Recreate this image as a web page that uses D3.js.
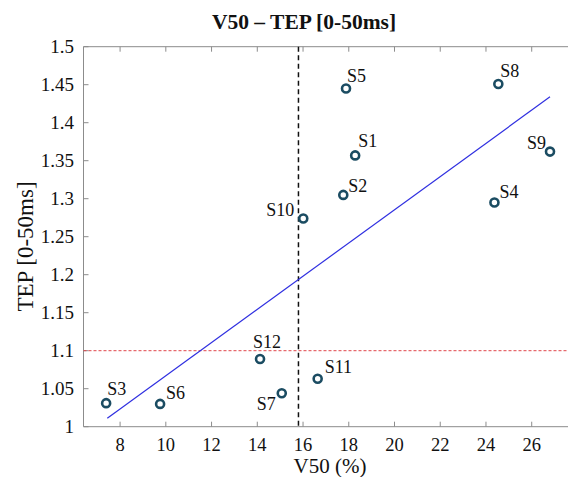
<!DOCTYPE html>
<html>
<head>
<meta charset="utf-8">
<script src="https://cdn.jsdelivr.net/npm/d3@7"></script>
<style>
    body { margin: 0; background: #fff; }
    text { font-family: "Liberation Serif", "Times New Roman", serif; fill: #111; }
</style>
</head>
<body>
<svg id="chart" width="568" height="477"></svg>
<script>
// subjects, V50 (%) and TEP [0-50ms]
const subjects = ["S1", "S2", "S3", "S4", "S5", "S6", "S7", "S8", "S9", "S10", "S11", "S12"]
const v50 = [18.28, 17.76, 7.39, 24.37, 17.88, 9.75, 15.07, 24.54, 26.80, 16.01, 16.64, 14.12]
const tep = [1.357, 1.305, 1.031, 1.295, 1.445, 1.030, 1.044, 1.451, 1.362, 1.274, 1.063, 1.089]

// fitted line ends, thresholds
const fitX = [7.44, 26.80]
const fitY = [1.011, 1.434]
const v50Cut = 15.8
const tepCut = 1.1

const xTicks = [8, 10, 12, 14, 16, 18, 20, 22, 24, 26]
const yTicks = [1, 1.05, 1.1, 1.15, 1.2, 1.25, 1.3, 1.35, 1.4, 1.45, 1.5]

// label placement next to each marker: dx, dy, anchor
const labelPos = {
    S1: [3, -8, "start"], S2: [5, -3, "start"], S3: [1, -8, "start"],
    S4: [5, -5, "start"], S5: [1, -7, "start"], S6: [6, -5, "start"],
    S7: [-6, 17, "end"], S8: [2, -7, "start"], S9: [-4, -3, "end"],
    S10: [-9, -2, "end"], S11: [7, -6, "start"], S12: [-7, -11, "start"]
}

const svg = d3.select("#chart")
const pLeft = 83.5, pRight = 568.3, pTop = 46.7, pBottom = 426.7

const x = d3.scaleLinear().domain([6.4, 27.6]).range([pLeft, pRight])
const y = d3.scaleLinear().domain([1, 1.5]).range([pBottom, pTop])

const axisColor = "#8c8c8c"

// box
svg.append("path")
    .attr("d", `M${pRight},${pTop}H${pLeft}V${pBottom}H${pRight}`)
    .attr("fill", "none")
    .attr("stroke", axisColor)
    .attr("stroke-width", 1)

// x ticks, bottom and top
svg.append("g").selectAll("line")
    .data(xTicks)
    .join("line")
    .attr("x1", d => x(d)).attr("x2", d => x(d))
    .attr("y1", pBottom).attr("y2", pBottom - 5)
    .attr("stroke", axisColor)
svg.append("g").selectAll("line")
    .data(xTicks)
    .join("line")
    .attr("x1", d => x(d)).attr("x2", d => x(d))
    .attr("y1", pTop).attr("y2", pTop + 5)
    .attr("stroke", axisColor)
svg.append("g").selectAll("text")
    .data(xTicks)
    .join("text")
    .attr("x", d => x(d))
    .attr("y", pBottom + 23.8)
    .attr("text-anchor", "middle")
    .attr("font-size", 18.5)
    .text(d => d)

// y ticks
svg.append("g").selectAll("line")
    .data(yTicks)
    .join("line")
    .attr("x1", pLeft).attr("x2", pLeft + 5)
    .attr("y1", d => y(d)).attr("y2", d => y(d))
    .attr("stroke", axisColor)
svg.append("g").selectAll("text")
    .data(yTicks)
    .join("text")
    .attr("x", pLeft - 9.5)
    .attr("y", d => y(d) + 6.5)
    .attr("text-anchor", "end")
    .attr("font-size", 19)
    .text(d => +d.toFixed(2))

// threshold lines
svg.append("line")
    .attr("x1", pLeft).attr("x2", pRight)
    .attr("y1", y(tepCut)).attr("y2", y(tepCut))
    .attr("stroke", "#e0474c")
    .attr("stroke-width", 1)
    .attr("stroke-dasharray", "3,2")
svg.append("line")
    .attr("x1", x(v50Cut)).attr("x2", x(v50Cut))
    .attr("y1", pTop).attr("y2", pBottom)
    .attr("stroke", "#111")
    .attr("stroke-width", 1.5)
    .attr("stroke-dasharray", "5,3.5")

// fit
svg.append("path")
    .datum(d3.zip(fitX, fitY))
    .attr("d", d3.line().x(d => x(d[0])).y(d => y(d[1])))
    .attr("fill", "none")
    .attr("stroke", "#2f2fe0")
    .attr("stroke-width", 1.2)

// markers
const pts = subjects.map((s, i) => ({name: s, v: v50[i], t: tep[i]}))
svg.append("g").selectAll("circle")
    .data(pts)
    .join("circle")
    .attr("cx", d => x(d.v))
    .attr("cy", d => y(d.t))
    .attr("r", 4)
    .attr("fill", "#fff")
    .attr("stroke", "#1b4c62")
    .attr("stroke-width", 2.6)

svg.append("g").selectAll("text")
    .data(pts)
    .join("text")
    .attr("x", d => x(d.v) + labelPos[d.name][0])
    .attr("y", d => y(d.t) + labelPos[d.name][1])
    .attr("text-anchor", d => labelPos[d.name][2])
    .attr("font-size", 18)
    .text(d => d.name)

// titles
svg.append("text")
    .attr("x", 304)
    .attr("y", 29)
    .attr("text-anchor", "middle")
    .attr("font-size", 21.5)
    .attr("font-weight", "bold")
    .text("V50 – TEP [0-50ms]")
svg.append("text")
    .attr("x", 330)
    .attr("y", 473.2)
    .attr("text-anchor", "middle")
    .attr("font-size", 21)
    .text("V50 (%)")
svg.append("text")
    .attr("transform", `translate(33,246.5) rotate(-90)`)
    .attr("text-anchor", "middle")
    .attr("font-size", 23)
    .text("TEP [0-50ms]")
</script>
</body>
</html>
